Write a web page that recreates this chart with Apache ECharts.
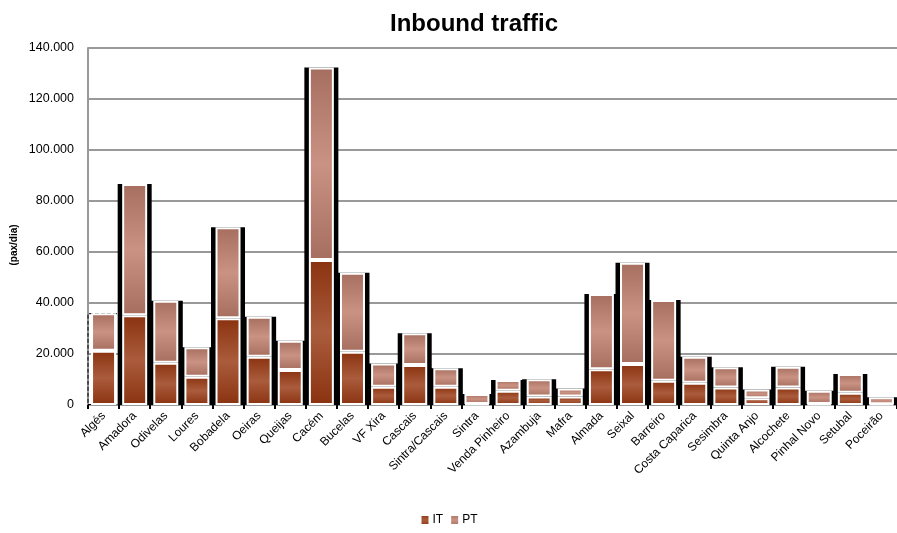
<!DOCTYPE html>
<html>
<head>
<meta charset="utf-8">
<script src="https://cdn.jsdelivr.net/npm/echarts@6/dist/echarts.min.js"></script>
<style>
  html, body { margin: 0; padding: 0; background: #ffffff; }
  #chart { width: 897px; height: 533px; }
</style>
</head>
<body>
<div id="chart"></div>
<script>
// Stations along the network
const categories = [
  'Algés', 'Amadora', 'Odivelas', 'Loures', 'Bobadela', 'Oeiras', 'Queijas',
  'Cacém', 'Bucelas', 'VF Xira', 'Cascais', 'Sintra/Cascais', 'Sintra',
  'Venda Pinheiro', 'Azambuja', 'Mafra', 'Almada', 'Seixal', 'Barreiro',
  'Costa Caparica', 'Sesimbra', 'Quinta Anjo', 'Alcochete', 'Pinhal Novo',
  'Setubal', 'Poceirão'
];

// Daily passengers, IT (lower segment)
const itValues = [
  21300, 35200, 16600, 11100, 34000, 18900, 13700,
  56900, 20900, 7200, 15700, 7200, 400,
  5600, 3300, 3300, 14000, 16100, 9500,
  8700, 6900, 2600, 6900, 400,
  4800, 300
];

// Daily passengers, PT (upper segment)
const ptValues = [
  14700, 51500, 24300, 11500, 35700, 15700, 11500,
  75500, 31000, 9100, 12400, 7200, 3900,
  4200, 6800, 3200, 29500, 39700, 31700,
  10200, 7900, 3500, 8100, 5200,
  7400, 2700
];

const yAxisName = '(pax/dia)';
const yMax = 140000;
const yStep = 20000;

const totals = itValues.map((v, i) => v + ptValues[i]);

function band(edge, mid) {
  return new echarts.graphic.LinearGradient(0, 0, 0, 1, [
    { offset: 0, color: edge },
    { offset: 0.5, color: mid },
    { offset: 1, color: edge }
  ]);
}

const fontFamily = '"Liberation Sans", Arial, Helvetica, sans-serif';

const chart = echarts.init(document.getElementById('chart'), null, { renderer: 'canvas' });

chart.setOption({
  backgroundColor: '#ffffff',
  animation: false,
  title: {
    text: 'Inbound traffic',
    left: 385,
    top: 7,
    textStyle: { fontFamily: fontFamily, fontSize: 24, fontWeight: 'bold', color: '#000' }
  },
  graphic: [
    {
      type: 'text',
      x: 14,
      y: 245,
      rotation: Math.PI / 2,
      style: {
        text: yAxisName,
        fontFamily: fontFamily,
        fontSize: 10,
        fontWeight: 'bold',
        fill: '#000',
        align: 'center',
        verticalAlign: 'middle'
      }
    }
  ],
  legend: {
    bottom: 2,
    left: 'center',
    data: ['IT', 'PT'],
    icon: 'rect',
    itemWidth: 9,
    itemHeight: 10,
    itemGap: 6,
    textStyle: { fontFamily: fontFamily, fontSize: 12, color: '#000', padding: [0, 0, 0, -2] }
  },
  grid: { left: 88, right: 0, top: 48, bottom: 128, containLabel: false },
  xAxis: [
    {
      type: 'category',
      data: categories,
      axisLine: { lineStyle: { color: '#999', width: 2 } },
      axisTick: { show: true, length: 4, lineStyle: { color: '#000', width: 2 } },
      axisLabel: {
        interval: 0, rotate: 45, margin: 9,
        fontFamily: fontFamily, fontSize: 12, color: '#000'
      }
    },
    {
      type: 'category',
      data: categories,
      show: false
    }
  ],
  yAxis: {
    type: 'value',
    min: 0,
    max: yMax,
    interval: yStep,
    axisLine: { show: true, lineStyle: { color: '#999', width: 2 } },
    axisTick: { show: false },
    splitLine: { lineStyle: { color: '#999', width: 2 } },
    axisLabel: {
      margin: 14,
      fontFamily: fontFamily, fontSize: 12.5, color: '#000',
      formatter: v => v === 0 ? '0' : String(v).replace(/\B(?=(\d{3})+(?!\d))/g, '.')
    }
  },
  series: [
    {
      name: 'frame',
      type: 'bar',
      xAxisIndex: 1,
      barWidth: 34,
      silent: true,
      z: 1,
      data: totals.map((v, i) => i === 0
        ? { value: v, itemStyle: { color: 'rgba(0,0,0,0)', borderColor: '#000', borderWidth: 1, borderType: 'dashed' } }
        : v),
      itemStyle: { color: '#000', borderColor: '#000', borderWidth: 2 }
    },
    {
      name: 'IT',
      type: 'bar',
      stack: 'traffic',
      barWidth: 25,
      z: 3,
      data: itValues,
      itemStyle: { color: band('#8a3210', '#aa5c3c'), borderColor: '#fff', borderWidth: 2 }
    },
    {
      name: 'PT',
      type: 'bar',
      stack: 'traffic',
      barWidth: 25,
      z: 3,
      data: ptValues,
      itemStyle: { color: band('#a66e5e', '#c99282'), borderColor: '#fff', borderWidth: 2 }
    }
  ]
});
</script>
</body>
</html>
